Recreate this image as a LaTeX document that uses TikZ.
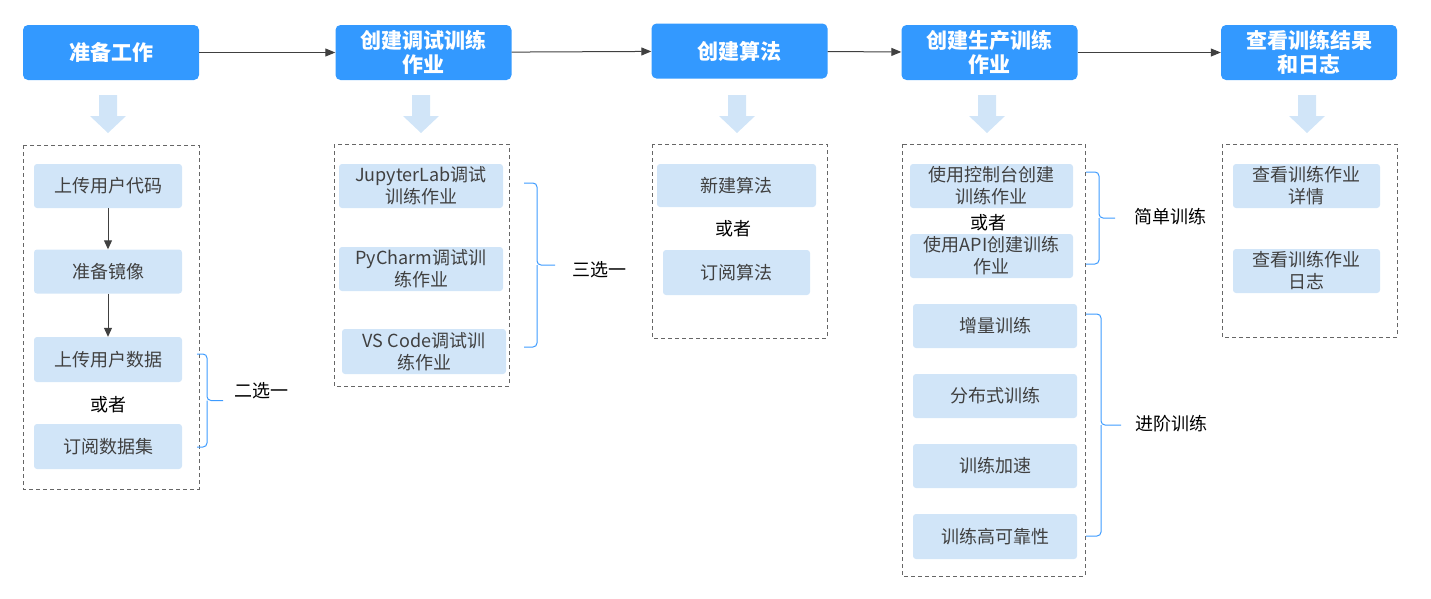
\documentclass[tikz,border=0pt]{standalone}
\usepackage{fontspec}
\setmainfont{Noto Sans CJK SC}
\usetikzlibrary{arrows.meta}

\definecolor{stepblue}{HTML}{3399FF}
\definecolor{itemblue}{HTML}{D1E5F8}
\definecolor{braceblue}{HTML}{3D9BFF}
\definecolor{textgray}{HTML}{404040}
\definecolor{framegray}{HTML}{666666}

\tikzset{
  topbox/.style={fill=stepblue, rounded corners=5pt, text=white, align=center,
    font=\fontsize{21}{24}\selectfont\bfseries, minimum width=176pt,
    minimum height=55pt, inner sep=0pt},
  itembox/.style={fill=itemblue, rounded corners=3pt, text=textgray, align=center,
    font=\fontsize{18}{22}\selectfont, inner sep=0pt},
  groupbox/.style={draw=framegray, line width=0.8pt, dash pattern=on 4pt off 3pt},
  note/.style={font=\fontsize{18}{22}\selectfont, text=black},
  flow/.style={draw=textgray, line width=1pt, -{Triangle[length=10pt,width=8pt]}},
  choice/.style={draw=braceblue, line width=1pt, rounded corners=4pt},
}

% brace: start x, top y, bottom y, spine x, tip x
\newcommand\choicebrace[5]{%
  \draw[choice] (#1,#2) -| (#4,{(#2+#3)/2}) -- (#5,{(#2+#3)/2});
  \draw[choice] (#1,#3) -| (#4,{(#2+#3)/2});
}

\begin{document}
\begin{tikzpicture}[x=1pt, y=-1pt]
  \useasboundingbox (0,0) rectangle (1431,598);

  % main steps
  \node[topbox] (prep)   at (111,52.5)  {准备工作};
  \node[topbox] (debug)  at (423.5,52.5) {创建调试训练\\作业};
  \node[topbox] (algo)   at (739.5,51)  {创建算法};
  \node[topbox] (train)  at (989.5,52.5) {创建生产训练\\作业};
  \node[topbox] (result) at (1309,52.5) {查看训练结果\\和日志};

  \draw[flow] (prep) -- (debug);
  \draw[flow] (debug) -- (algo);
  \draw[flow] (algo) -- (train);
  \draw[flow] (train) -- (result);

  % down arrows
  \foreach \x in {108,421,737,987,1307}
    \fill[itemblue] (\x-9,95) -- (\x+9,95) -- (\x+9,116) -- (\x+18,116)
      -- (\x,133) -- (\x-18,116) -- (\x-9,116) -- cycle;

  % dashed groups
  \draw[groupbox] (23,145) rectangle (199,489);
  \draw[groupbox] (334,144) rectangle (509,386);
  \draw[groupbox] (652,144) rectangle (827,338);
  \draw[groupbox] (902,144) rectangle (1085,576);
  \draw[groupbox] (1222,144) rectangle (1397,337);

  % prepare
  \node[itembox, minimum width=148pt, minimum height=44pt] (upcode)  at (108,186)   {上传用户代码};
  \node[itembox, minimum width=148pt, minimum height=44pt] (image)   at (108,271.5) {准备镜像};
  \node[itembox, minimum width=148pt, minimum height=45pt] (updata)  at (108,359.5) {上传用户数据};
  \node[note] (or1) at (108,405) {或者};
  \node[itembox, minimum width=148pt, minimum height=45pt] (subdata) at (108,446.5) {订阅数据集};

  \draw[flow, -{Triangle[length=9pt,width=8pt]}] (upcode) -- (image);
  \draw[flow, -{Triangle[length=9pt,width=8pt]}] (image) -- (updata);

  \choicebrace{197}{354}{447}{207}{223}
  \node[note, anchor=west] (pick2) at (231,391) {二选一};

  % debug
  \node[itembox, minimum width=164pt, minimum height=44pt] (jupyter) at (421,186)   {JupyterLab调试\\训练作业};
  \node[itembox, minimum width=164pt, minimum height=44pt] (pycharm) at (421,269)   {PyCharm调试训\\练作业};
  \node[itembox, minimum width=164pt, minimum height=45pt] (vscode)  at (424,351.5) {VS Code调试训\\练作业};

  \choicebrace{524}{183}{347}{537}{555}
  \node[note, anchor=west] (pick3) at (569,270) {三选一};

  % algorithm
  \node[itembox, minimum width=159pt, minimum height=43pt] (newalgo) at (736.5,185.5) {新建算法};
  \node[note] (or2) at (733,229) {或者};
  \node[itembox, minimum width=147pt, minimum height=45pt] (subalgo) at (736.5,272.5) {订阅算法};

  % production training
  \node[itembox, minimum width=163pt, minimum height=44pt] (console) at (991.5,186) {使用控制台创建\\训练作业};
  \node[note] (or3) at (988,223) {或者};
  \node[itembox, minimum width=163pt, minimum height=44pt] (api)     at (991.5,256) {使用API创建训练\\作业};
  \node[itembox, minimum width=164pt, minimum height=44pt] (incr)    at (995,326)   {增量训练};
  \node[itembox, minimum width=164pt, minimum height=44pt] (dist)    at (995,396)   {分布式训练};
  \node[itembox, minimum width=164pt, minimum height=44pt] (speed)   at (995,466)   {训练加速};
  \node[itembox, minimum width=164pt, minimum height=45pt] (reliab)  at (995,536.5) {训练高可靠性};

  \choicebrace{1086}{172}{264}{1099}{1115}
  \node[note, anchor=west] (basic) at (1131,217) {简单训练};
  \choicebrace{1086}{314}{536}{1101}{1121}
  \node[note, anchor=west] (advanced) at (1132,424) {进阶训练};

  % results
  \node[itembox, minimum width=147pt, minimum height=44pt] (detail) at (1306.5,186) {查看训练作业\\详情};
  \node[itembox, minimum width=147pt, minimum height=44pt] (logs)   at (1306.5,271) {查看训练作业\\日志};
\end{tikzpicture}
\end{document}
